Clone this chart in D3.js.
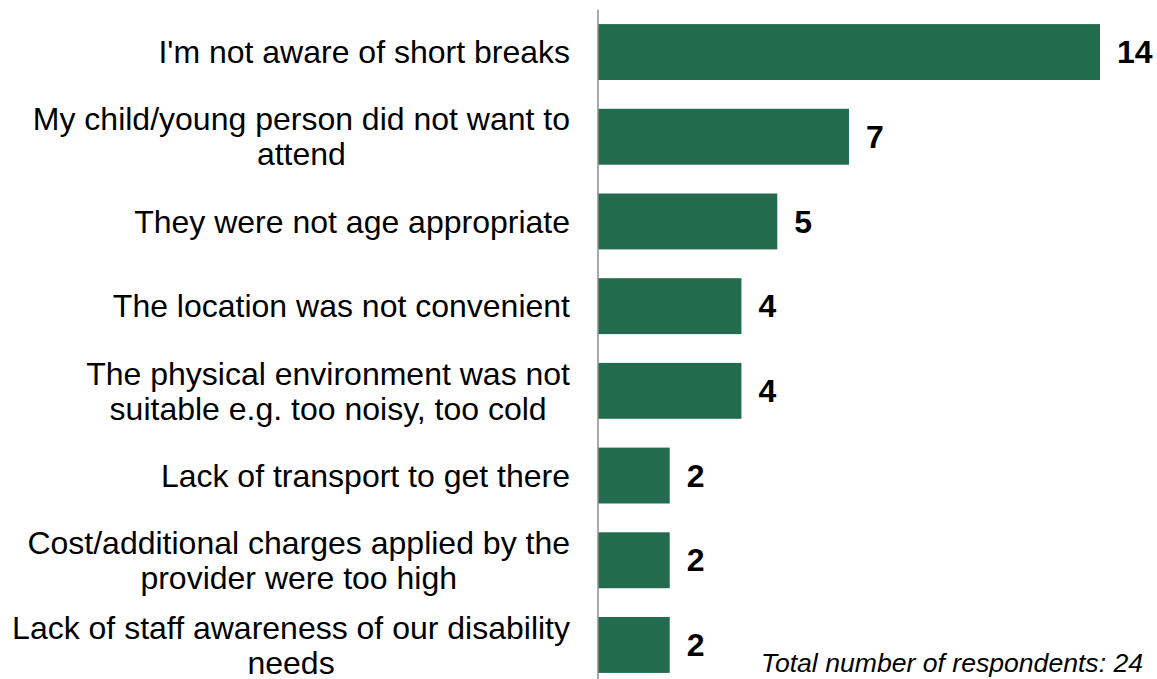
<!DOCTYPE html>
<html>
<head>
<meta charset="utf-8">
<script src="https://cdn.jsdelivr.net/npm/d3@7"></script>
<style>
  html, body { margin: 0; padding: 0; background: #fff; }
  svg { display: block; font-family: "Liberation Sans", Arial, sans-serif; }
</style>
</head>
<body>
<svg id="chart" width="1157" height="679"></svg>
<script>
// Reasons given for not using short breaks (number of respondents)
const categories = [
  "I'm not aware of short breaks",
  "My child/young person did not want to\nattend",
  "They were not age appropriate",
  "The location was not convenient",
  "The physical environment was not\nsuitable e.g. too noisy, too cold",
  "Lack of transport to get there",
  "Cost/additional charges applied by the\nprovider were too high",
  "Lack of staff awareness of our disability\nneeds"
];
const values = [14, 7, 5, 4, 4, 2, 2, 2];
const footnote = "Total number of respondents: 24";

const svg = d3.select("#chart");
const barColor = "#226b4c";
const fontSize = 32;
const lineHeight = 35;

const x = d3.scaleLinear().domain([0, d3.max(values)]).range([598, 1100]);
const y = d3.scaleBand().domain(categories).range([9.7, 687.3])
  .paddingInner(0.34).paddingOuter(0.17);

// Bars
svg.append("g").selectAll("rect")
  .data(categories)
  .join("rect")
  .attr("x", x(0))
  .attr("y", d => y(d))
  .attr("width", (d, i) => x(values[i]) - x(0))
  .attr("height", y.bandwidth())
  .attr("fill", barColor);

// Vertical category axis (line only)
const axis = svg.append("g")
  .attr("transform", `translate(${x(0)},0)`)
  .call(d3.axisLeft(y).tickSize(0).tickFormat(""));
axis.select(".domain").attr("stroke", "#8c8c8c").attr("stroke-width", 1.5)
  .attr("d", `M0,${y.range()[0]}V679`);

// Category labels: each block is centred, its widest line ending at labelRight
const labelRight = 570;
const labels = svg.append("g")
  .attr("font-size", fontSize)
  .attr("fill", "#000");

categories.forEach(cat => {
  const lines = cat.split("\n");
  const cy = y(cat) + y.bandwidth() / 2;
  const t = labels.append("text").attr("text-anchor", "middle");
  lines.forEach((ln, k) => {
    t.append("tspan")
      .attr("y", cy + (k - (lines.length - 1) / 2) * lineHeight)
      .attr("dy", "0.35em")
      .text(ln);
  });
  // measure widest line, then position block
  let w = 0;
  t.selectAll("tspan").each(function () { w = Math.max(w, this.getComputedTextLength()); });
  t.selectAll("tspan").attr("x", labelRight - w / 2);
});

// Value labels
svg.append("g")
  .attr("font-size", fontSize)
  .attr("font-weight", "bold")
  .selectAll("text")
  .data(categories)
  .join("text")
  .attr("x", (d, i) => x(values[i]) + 17)
  .attr("y", d => y(d) + y.bandwidth() / 2)
  .attr("dy", "0.35em")
  .text((d, i) => values[i]);

// Footnote
svg.append("text")
  .attr("x", 1143)
  .attr("y", 672)
  .attr("text-anchor", "end")
  .attr("font-size", 26.6)
  .attr("font-style", "italic")
  .text(footnote);
</script>
</body>
</html>
